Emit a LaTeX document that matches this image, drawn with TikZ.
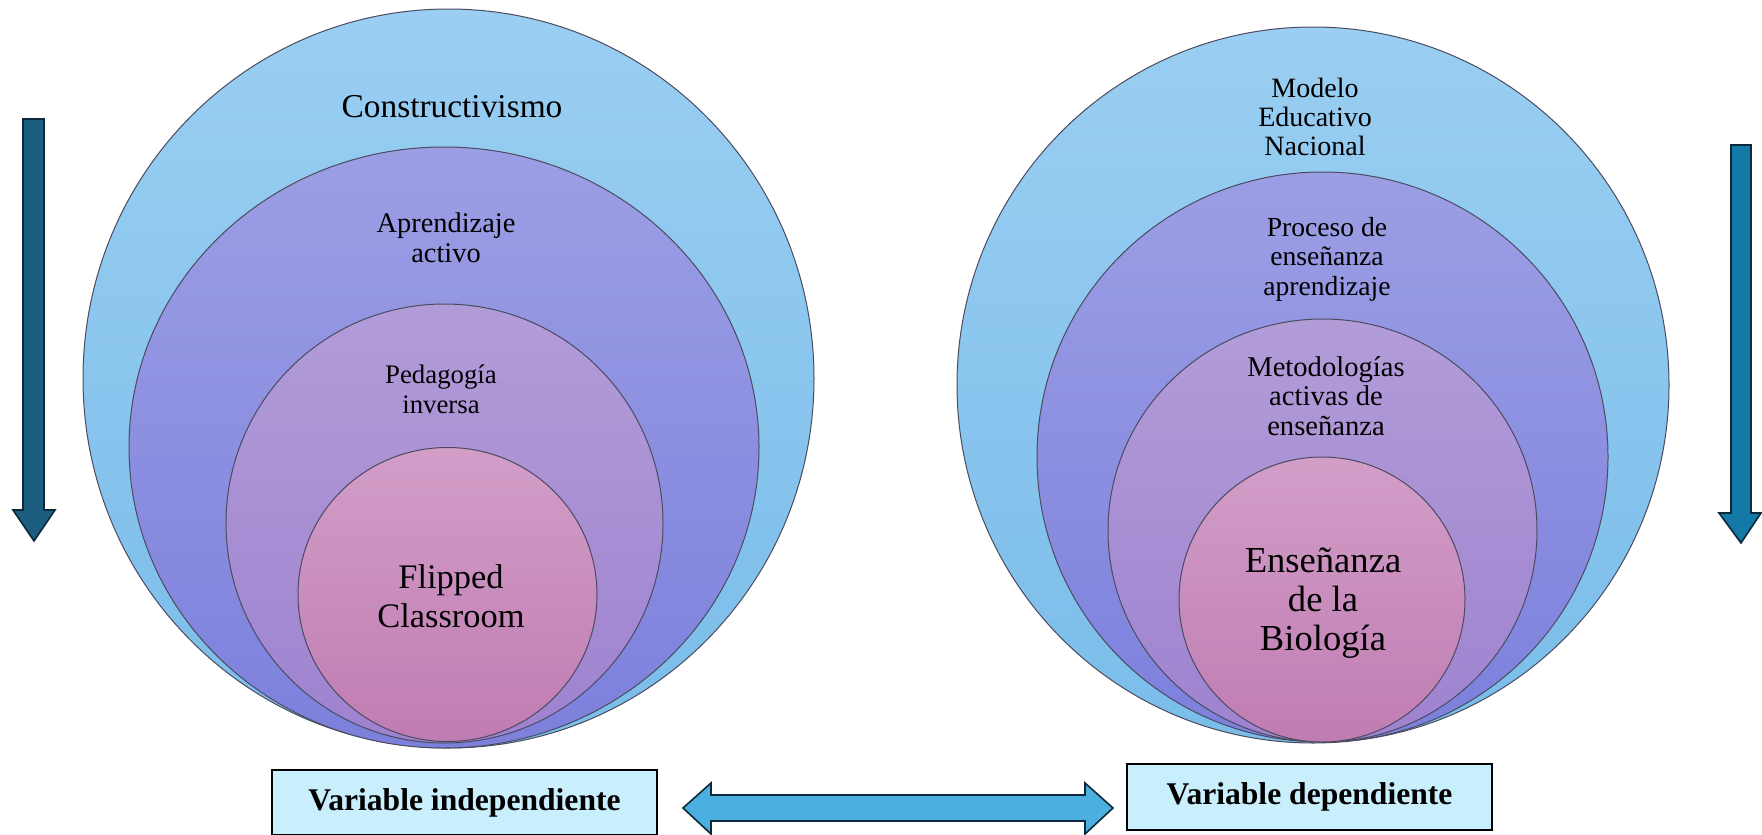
\documentclass[tikz,border=0pt]{standalone}
\usepackage{fontspec}
\setmainfont{Liberation Serif}
\definecolor{blueA}{RGB}{154,206,242}
\definecolor{blueB}{RGB}{122,189,234}
\definecolor{violA}{RGB}{156,158,228}
\definecolor{violB}{RGB}{124,128,220}
\definecolor{lilaA}{RGB}{178,156,216}
\definecolor{lilaB}{RGB}{158,130,208}
\definecolor{pinkA}{RGB}{210,158,200}
\definecolor{pinkB}{RGB}{192,124,178}
\definecolor{boxcyan}{RGB}{201,238,252}
\definecolor{arrcyan}{RGB}{75,176,224}
\definecolor{tealdark}{RGB}{27,94,128}
\definecolor{tealmid}{RGB}{19,121,166}
\definecolor{edgedark}{RGB}{13,40,58}
\definecolor{ringline}{RGB}{75,75,95}

\begin{document}
\begin{tikzpicture}[x=0.5pt,y=-0.5pt,
  ring/.style={draw=ringline,line width=0.5pt},
  lbl/.style={align=center,inner sep=0pt},
  blockarrow/.style={draw=edgedark,line width=0.8pt,line join=miter},
  varbox/.style={draw=black,fill=boxcyan,line width=0.6pt,inner sep=0pt,
    font=\bfseries\fontsize{15.8}{18}\selectfont}]
\useasboundingbox (0,0) rectangle (1762,835);
\shade[ring,top color=blueA,bottom color=blueB] (448.5,378.5) ellipse [x radius=365.5,y radius=369.5];
\shade[ring,top color=violA,bottom color=violB] (444,447.5) ellipse [x radius=315,y radius=300.5];
\shade[ring,top color=lilaA,bottom color=lilaB] (444.5,523.5) ellipse [x radius=218.5,y radius=219.5];
\shade[ring,top color=pinkA,bottom color=pinkB] (447.5,594.5) ellipse [x radius=149.5,y radius=147];
\node[lbl,anchor=base,font=\fontsize{16.7}{19}\selectfont] (cons) at (452,117) {Constructivismo};
\node[lbl,font=\fontsize{14.2}{15}\selectfont] (apre) at (446,238) {Aprendizaje\\activo};
\node[lbl,font=\fontsize{13.4}{15}\selectfont] (peda) at (441,389) {Pedagogía\\inversa};
\node[lbl,font=\fontsize{17.2}{19.5}\selectfont] (flip) at (451,596) {Flipped\\Classroom};
\shade[ring,top color=blueA,bottom color=blueB] (1313,385) ellipse [x radius=356,y radius=358];
\shade[ring,top color=violA,bottom color=violB] (1322.5,457) ellipse [x radius=285.5,y radius=285];
\shade[ring,top color=lilaA,bottom color=lilaB] (1322.5,530.5) ellipse [x radius=214.5,y radius=211.5];
\shade[ring,top color=pinkA,bottom color=pinkB] (1322,599.5) ellipse [x radius=143,y radius=142.5];
\node[lbl,font=\fontsize{14}{14.5}\selectfont] (mode) at (1315,117) {Modelo\\Educativo\\Nacional};
\node[lbl,font=\fontsize{13.8}{14.8}\selectfont] (proc) at (1327,259) {Proceso de\\enseñanza\\aprendizaje};
\node[lbl,font=\fontsize{14.3}{14.8}\selectfont] (meto) at (1326,396) {Metodologías\\activas de\\enseñanza};
\node[lbl,font=\fontsize{18.3}{19.5}\selectfont] (bio) at (1323,603) {Enseñanza\\de la\\Biología};
\filldraw[blockarrow,fill=tealdark] (23,119) -- (44,119) -- (44,510) -- (55,510) -- (34,541)
  -- (13,510) -- (23,510) -- cycle;
\filldraw[blockarrow,fill=tealmid] (1731,145) -- (1751,145) -- (1751,513) -- (1761,513) -- (1741,543)
  -- (1719,513) -- (1731,513) -- cycle;
\node[varbox,minimum width=192.5pt,minimum height=32.5pt] (vi) at (464.5,802.5) {Variable independiente};
\node[varbox,minimum width=182.5pt,minimum height=33pt] (vd) at (1309.5,797) {Variable dependiente};
\filldraw[blockarrow,fill=arrcyan] (683,808) -- (711,783) -- (711,795) -- (1085,795) -- (1085,783)
  -- (1113,808) -- (1085,834) -- (1085,821) -- (711,821) -- (711,834) -- cycle;
\end{tikzpicture}
\end{document}
